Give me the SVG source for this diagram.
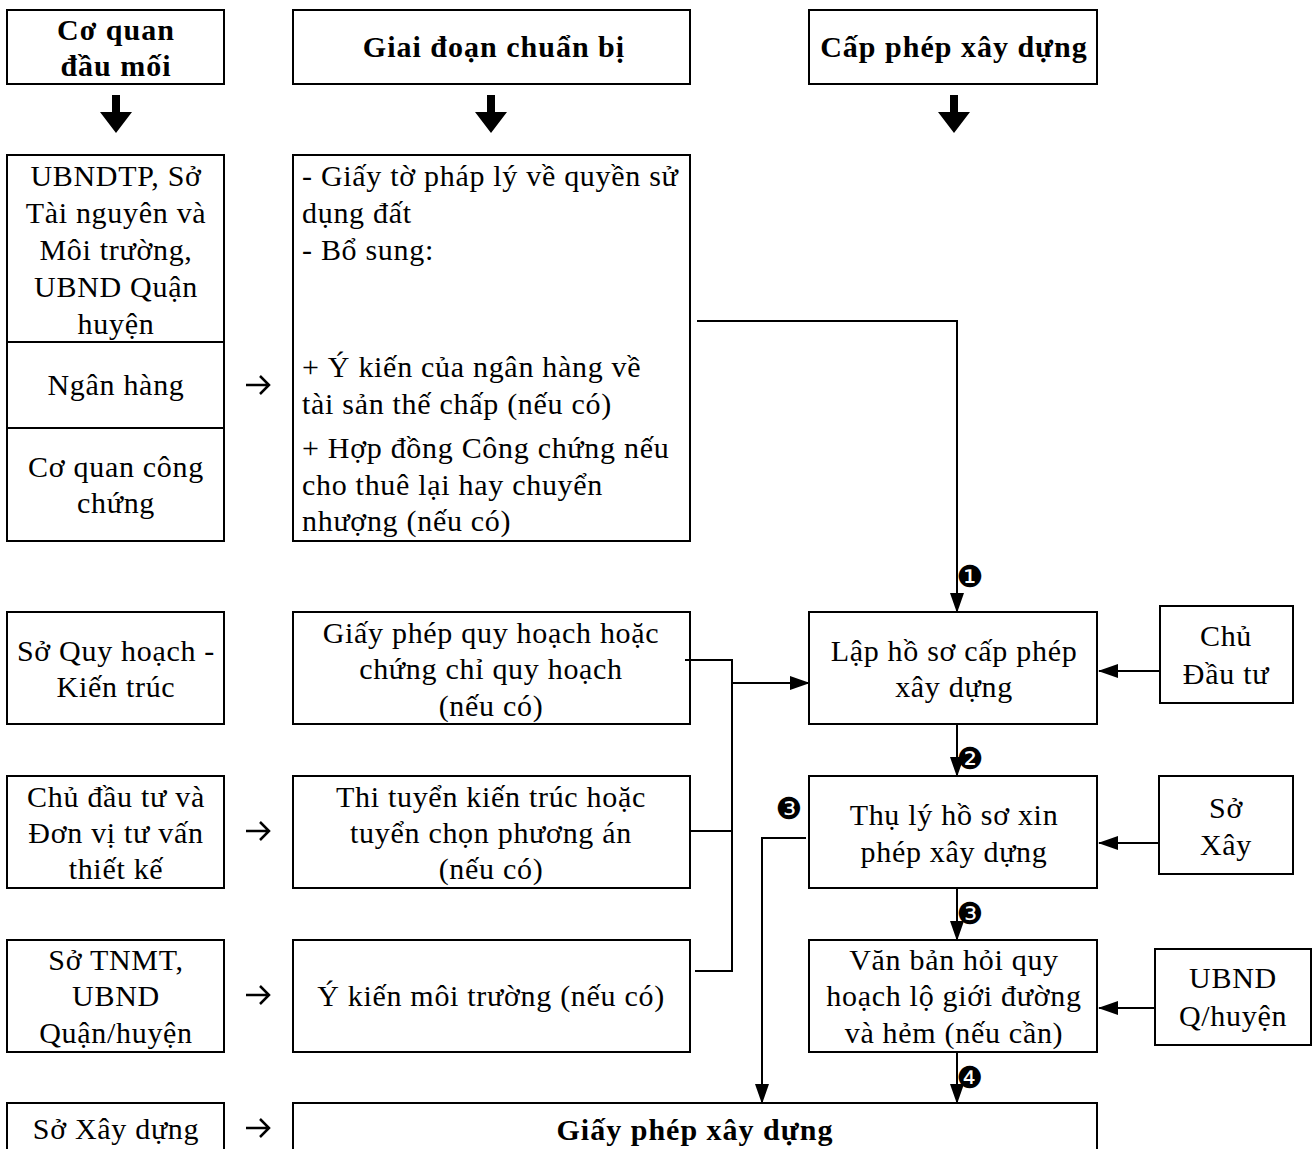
<svg xmlns="http://www.w3.org/2000/svg" width="1316" height="1149" viewBox="0 0 1316 1149">
<style>
.b{fill:#fff;stroke:#000;stroke-width:2}
.t{font-family:"Liberation Serif","Times New Roman",serif;font-size:30px;letter-spacing:0.7px;fill:#000}
.c{text-anchor:middle}
.h{font-weight:bold;letter-spacing:1px}
.ln{fill:none;stroke:#000;stroke-width:2}
.n{font-family:"DejaVu Sans",sans-serif;font-size:30px;fill:#000}
</style>
<defs>
<marker id="ah" markerWidth="20" markerHeight="14" refX="19" refY="7" orient="auto" markerUnits="userSpaceOnUse"><path d="M0,0 L20,7 L0,14 Z" fill="#000"/></marker>
<path id="big" d="M-4,0 H4 V17 H16 L0,38 L-16,17 H-4 Z" fill="#000"/>
<path id="sm" d="M-12,0 H10 M2,-9 L11,0 L2,9" fill="none" stroke="#000" stroke-width="2.5"/>
</defs>
<rect width="1316" height="1149" fill="#fff"/>

<g id="h1"><rect class="b" x="7" y="10" width="217" height="74"/><text class="t c h" x="116" y="40">Cơ quan</text><text class="t c h" x="116" y="76">đầu mối</text></g>
<g id="h2"><rect class="b" x="293" y="10" width="397" height="74"/><text class="t c h" x="494" y="57">Giai đoạn chuẩn bị</text></g>
<g id="h3"><rect class="b" x="809" y="10" width="288" height="74"/><text class="t c h" x="954" y="57">Cấp phép xây dựng</text></g>

<g id="l1"><rect class="b" x="7" y="155" width="217" height="386"/><line class="ln" x1="7" y1="342" x2="224" y2="342"/><line class="ln" x1="7" y1="428" x2="224" y2="428"/>
<text class="t c" x="116" y="186">UBNDTP, Sở</text><text class="t c" x="116" y="223">Tài nguyên và</text><text class="t c" x="116" y="260">Môi trường,</text><text class="t c" x="116" y="297">UBND Quận</text><text class="t c" x="116" y="334">huyện</text>
<text class="t c" x="116" y="395">Ngân hàng</text>
<text class="t c" x="116" y="477">Cơ quan công</text><text class="t c" x="116" y="513">chứng</text></g>
<g id="m1"><rect class="b" x="293" y="155" width="397" height="386"/>
<text class="t" x="302" y="186">- Giấy tờ pháp lý về quyền sử</text><text class="t" x="302" y="223">dụng đất</text><text class="t" x="302" y="260">- Bổ sung:</text>
<text class="t" x="302" y="377">+ Ý kiến của ngân hàng về</text><text class="t" x="302" y="414">tài sản thế chấp (nếu có)</text>
<text class="t" x="302" y="458">+ Hợp đồng Công chứng nếu</text><text class="t" x="302" y="495">cho thuê lại hay chuyển</text><text class="t" x="302" y="531">nhượng (nếu có)</text></g>

<g id="l2"><rect class="b" x="7" y="612" width="217" height="112"/><text class="t c" x="116" y="661">Sở Quy hoạch -</text><text class="t c" x="116" y="697">Kiến trúc</text></g>
<g id="m2"><rect class="b" x="293" y="612" width="397" height="112"/><text class="t c" x="491" y="643">Giấy phép quy hoạch hoặc</text><text class="t c" x="491" y="679">chứng chỉ quy hoạch</text><text class="t c" x="491" y="716">(nếu có)</text></g>
<g id="r2"><rect class="b" x="809" y="612" width="288" height="112"/><text class="t c" x="954" y="661">Lập hồ sơ cấp phép</text><text class="t c" x="954" y="697">xây dựng</text></g>
<g id="x2"><rect class="b" x="1160" y="606" width="133" height="97"/><text class="t c" x="1226" y="646">Chủ</text><text class="t c" x="1226" y="684">Đầu tư</text></g>

<g id="l3"><rect class="b" x="7" y="776" width="217" height="112"/><text class="t c" x="116" y="807">Chủ đầu tư và</text><text class="t c" x="116" y="843">Đơn vị tư vấn</text><text class="t c" x="116" y="879">thiết kế</text></g>
<g id="m3"><rect class="b" x="293" y="776" width="397" height="112"/><text class="t c" x="491" y="807">Thi tuyển kiến trúc hoặc</text><text class="t c" x="491" y="843">tuyển chọn phương án</text><text class="t c" x="491" y="879">(nếu có)</text></g>
<g id="r3"><rect class="b" x="809" y="776" width="288" height="112"/><text class="t c" x="954" y="825">Thụ lý hồ sơ xin</text><text class="t c" x="954" y="862">phép xây dựng</text></g>
<g id="x3"><rect class="b" x="1159" y="776" width="134" height="98"/><text class="t c" x="1226" y="818">Sở</text><text class="t c" x="1226" y="855">Xây</text></g>

<g id="l4"><rect class="b" x="7" y="940" width="217" height="112"/><text class="t c" x="116" y="970">Sở TNMT,</text><text class="t c" x="116" y="1006">UBND</text><text class="t c" x="116" y="1043">Quận/huyện</text></g>
<g id="m4"><rect class="b" x="293" y="940" width="397" height="112"/><text class="t c" x="491" y="1006">Ý kiến môi trường (nếu có)</text></g>
<g id="r4"><rect class="b" x="809" y="940" width="288" height="112"/><text class="t c" x="954" y="970">Văn bản hỏi quy</text><text class="t c" x="954" y="1006">hoạch lộ giới đường</text><text class="t c" x="954" y="1043">và hẻm (nếu cần)</text></g>
<g id="x4"><rect class="b" x="1155" y="949" width="156" height="96"/><text class="t c" x="1233" y="988">UBND</text><text class="t c" x="1233" y="1026">Q/huyện</text></g>

<g id="l5"><rect class="b" x="7" y="1103" width="217" height="60"/><text class="t c" x="116" y="1139">Sở Xây dựng</text></g>
<g id="m5"><rect class="b" x="293" y="1103" width="804" height="60"/><text class="t c h" x="695" y="1140">Giấy phép xây dựng</text></g>

<g id="connectors">
<use href="#big" x="116" y="95"/><use href="#big" x="491" y="95"/><use href="#big" x="954" y="95"/>
<use href="#sm" x="258" y="385"/><use href="#sm" x="258" y="831"/><use href="#sm" x="258" y="995"/><use href="#sm" x="258" y="1128"/>
<polyline class="ln" points="697,321 957,321 957,612" marker-end="url(#ah)"/>
<polyline class="ln" points="685,660 732,660 732,971 695,971"/>
<line class="ln" x1="690" y1="831" x2="732" y2="831"/>
<line class="ln" x1="732" y1="683" x2="809" y2="683" marker-end="url(#ah)"/>
<line class="ln" x1="957" y1="724" x2="957" y2="776" marker-end="url(#ah)"/>
<line class="ln" x1="957" y1="888" x2="957" y2="940" marker-end="url(#ah)"/>
<line class="ln" x1="957" y1="1052" x2="957" y2="1103" marker-end="url(#ah)"/>
<polyline class="ln" points="806,838 762,838 762,1103" marker-end="url(#ah)"/>
<line class="ln" x1="1160" y1="671" x2="1099" y2="671" marker-end="url(#ah)"/>
<line class="ln" x1="1159" y1="843" x2="1099" y2="843" marker-end="url(#ah)"/>
<line class="ln" x1="1155" y1="1008" x2="1099" y2="1008" marker-end="url(#ah)"/>
<text class="n c" x="970" y="587">❶</text>
<text class="n c" x="970" y="769">❷</text>
<text class="n c" x="789" y="819">❸</text>
<text class="n c" x="970" y="924">❸</text>
<text class="n c" x="970" y="1088">❹</text>
</g>
</svg>
